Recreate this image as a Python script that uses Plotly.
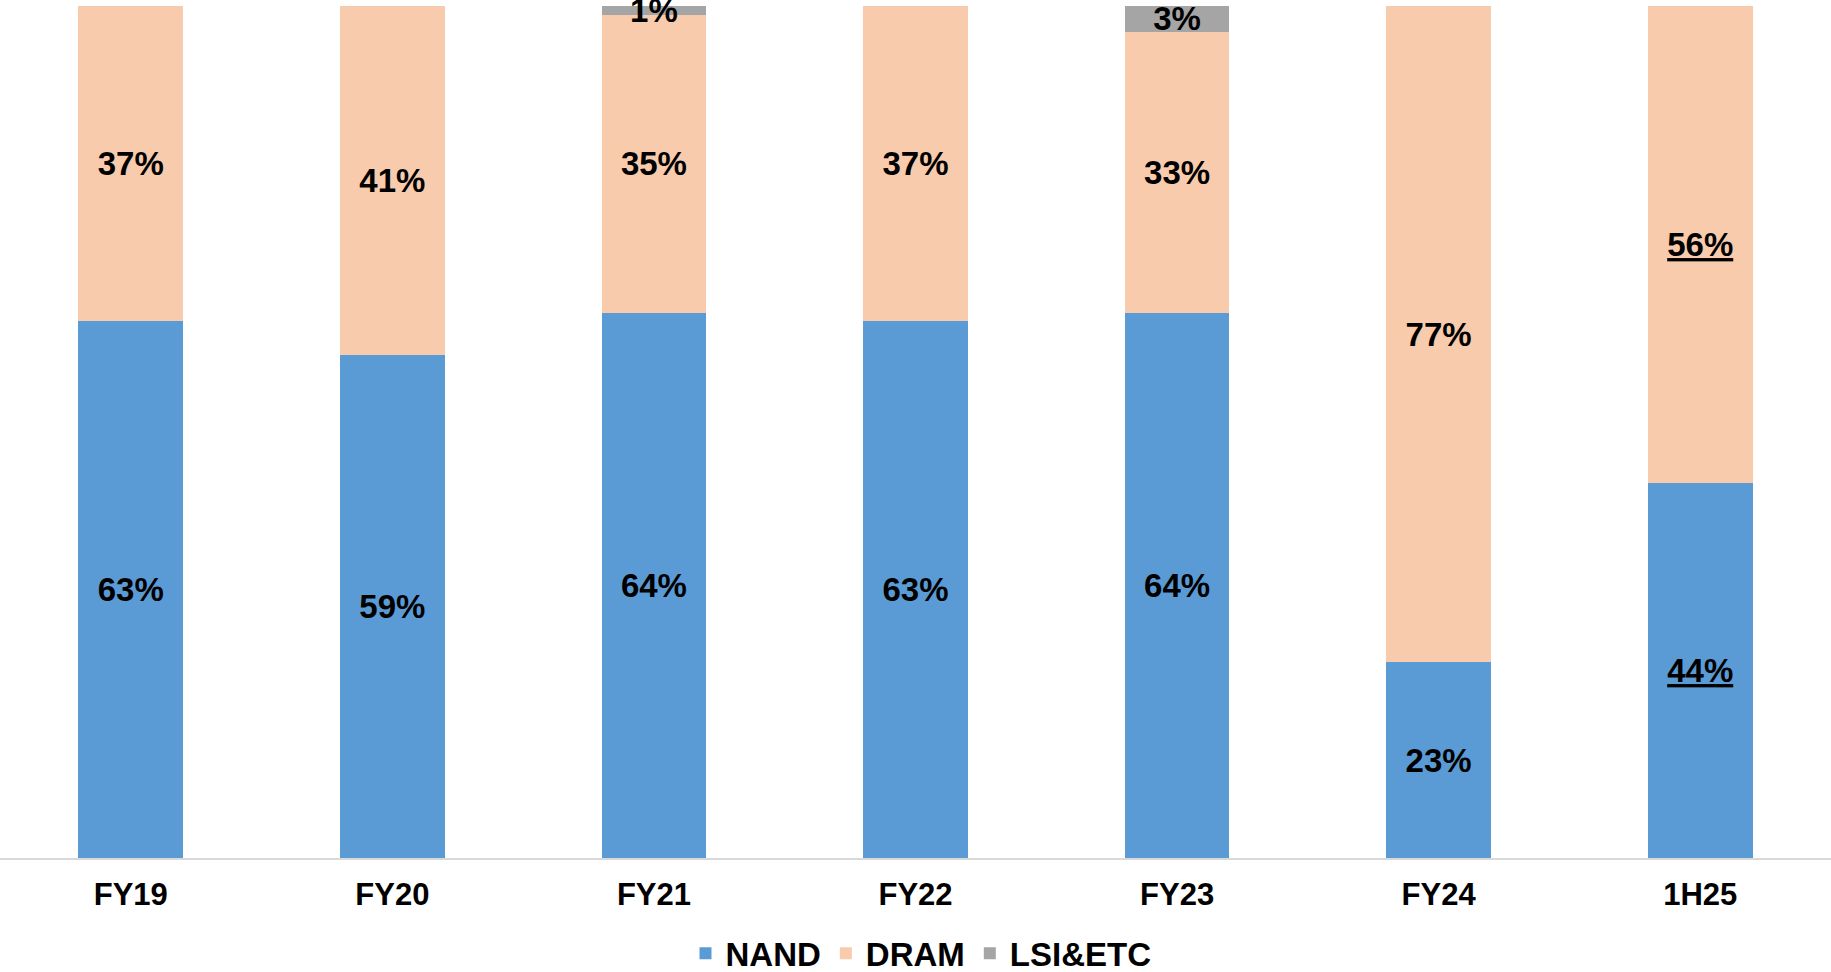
import plotly.graph_objects as go

categories = ["FY19", "FY20", "FY21", "FY22", "FY23", "FY24", "1H25"]
nand = [63, 59, 64, 63, 64, 23, 44]
dram = [37, 41, 35, 37, 33, 77, 56]
lsi = [0, 0, 1, 0, 3, 0, 0]
underlined = ["1H25"]

def labels(vals):
    out = []
    for c, v in zip(categories, vals):
        if v == 0:
            out.append("")
        elif c in underlined:
            out.append(f"<u>{v}%</u>")
        else:
            out.append(f"{v}%")
    return out

label_font = dict(family="Liberation Sans, Arial", size=33, color="black", weight="bold")

fig = go.Figure()
for name, vals, color in [("NAND", nand, "#5B9BD5"), ("DRAM", dram, "#F8CBAD"), ("LSI&ETC", lsi, "#A5A5A5")]:
    fig.add_trace(go.Bar(
        x=categories, y=vals, name=name, marker=dict(color=color, line=dict(width=0)),
        text=labels(vals), textposition="inside", insidetextanchor="middle",
        constraintext="none", textangle=0, textfont=label_font, cliponaxis=False,
        hoverinfo="skip",
    ))

fig.update_layout(
    barmode="stack", bargap=0.6, width=1831, height=972,
    margin=dict(l=0, r=0, t=6, b=114, autoexpand=False),
    paper_bgcolor="white", plot_bgcolor="white",
    showlegend=True,
    legend=dict(orientation="h", x=0.503, xanchor="center", y=-0.112, yanchor="middle",
                font=dict(family="Liberation Sans, Arial", size=33, color="black", weight="bold"),
                itemwidth=30, tracegroupgap=0, traceorder="normal"),
    uniformtext=dict(mode=False),
)
fig.update_xaxes(showline=True, linecolor="#D9D9D9", linewidth=2, ticks="",
                 tickfont=dict(family="Liberation Sans, Arial", size=31, color="black", weight="bold"),
                 ticklabelstandoff=8, showgrid=False, zeroline=False)
fig.update_yaxes(range=[0, 100], visible=False, showgrid=False, zeroline=False)

fig.write_html("out.html", config={"displayModeBar": False},
               post_script="document.body.style.margin='0';document.body.style.overflow='hidden';")
